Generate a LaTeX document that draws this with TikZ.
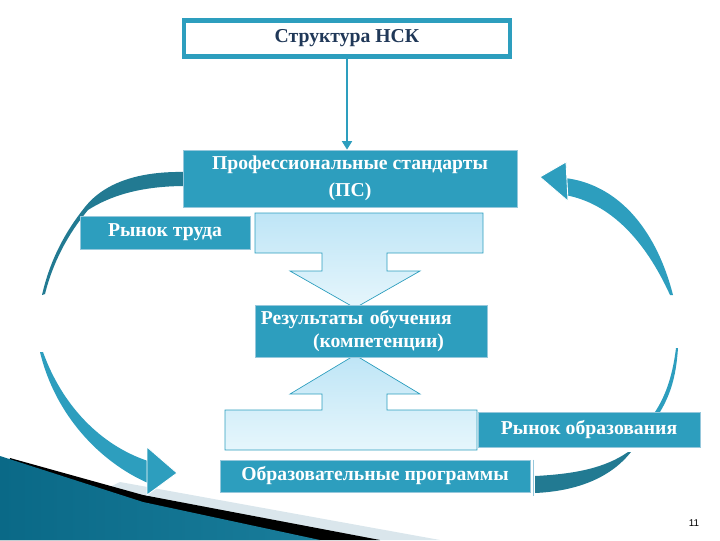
\documentclass[tikz,border=0pt]{standalone}
\usepackage{fontspec}
\setmainfont{Liberation Serif}
\newfontfamily\numfont{Liberation Sans}
\usetikzlibrary{arrows.meta,positioning,calc}

\definecolor{boxteal}{RGB}{45,158,190}
\definecolor{darkband}{RGB}{34,122,146}
\definecolor{edgeblue}{RGB}{150,200,220}
\definecolor{titlenavy}{RGB}{32,56,88}
\definecolor{arrowtop}{RGB}{190,229,246}
\definecolor{arrowbot}{RGB}{230,246,252}
\definecolor{wedgedark}{RGB}{10,105,135}
\definecolor{wedgelight}{RGB}{85,185,218}
\definecolor{wedgemid}{RGB}{25,125,155}
\definecolor{greyband}{RGB}{218,230,236}

\begin{document}
\begin{tikzpicture}[x=0.025cm, y=-0.025cm,
			box/.style={fill=boxteal, draw=edgeblue, line width=0.5pt, text=white, inner sep=2pt, font=\bfseries\fontsize{14}{19}\selectfont},
			titlebox/.style={draw=boxteal, line width=2.6pt, fill=white, text=titlenavy, font=\bfseries\fontsize{14}{17}\selectfont},
			conn/.style={draw=boxteal, line width=1.4pt, -{Triangle[length=6pt,width=7pt]}},
			band/.style={fill=darkband},
			loop/.style={fill=boxteal},
			head/.style={fill=boxteal, draw=white, line width=0.6pt},
			blockarrow/.style={top color=arrowtop, bottom color=arrowbot, draw=boxteal, line width=0.5pt}
			]
			\useasboundingbox (0,0) rectangle (720,540);
			
			% --------------------------------------------------------------------
			% corner wedge (bottom left)
			% --------------------------------------------------------------------
			\fill[greyband] (120,482) -- (440,540) -- (0,540) -- cycle;
			\fill[black] (10,458) -- (143,495) -- (380,540) -- (0,540) -- cycle;
			\shade[left color=wedgedark, middle color=wedgelight, right color=wedgemid]
				(0,456) -- (143,502) -- (320,540) -- (0,540) -- cycle;
			
			% --------------------------------------------------------------------
			% loop arrows
			% --------------------------------------------------------------------
			% left: from PS down to the programmes
			\fill[band] (186,172) .. controls (140,171) and (105,182) .. (85,207)
				.. controls (65,232) and (50,260) .. (42,295)
				-- (45,294) .. controls (53,262) and (68,234) .. (88,210)
				.. controls (110,196) and (140,186) .. (186,186) -- cycle;
			\fill[loop] (40,352) .. controls (55,415) and (100,462) .. (148,483)
				-- (148,461) .. controls (100,445) and (62,405) .. (43,352) -- cycle;
			\filldraw[head] (147,447) -- (177,473) -- (147,495) -- cycle;
			
			% right: from the programmes up to PS
			\fill[band] (535,476) .. controls (575,474) and (605,468) .. (628,452)
				-- (631,452) .. controls (612,476) and (580,491) .. (535,493) -- cycle;
			\fill[loop] (676,348) .. controls (672,380) and (664,398) .. (655,412)
				-- (660,412) .. controls (670,395) and (676,378) .. (678,348) -- cycle;
			\fill[loop] (565,178) .. controls (615,184) and (655,225) .. (673,295)
				-- (670,295) .. controls (645,240) and (610,203) .. (565,195) -- cycle;
			\filldraw[head] (566,162) -- (540,177) -- (568,201) -- cycle;
			
			% --------------------------------------------------------------------
			% block arrows (middle)
			% --------------------------------------------------------------------
			\path[blockarrow] (255,213) -- (483,213) -- (483,253) -- (387,253) -- (387,271)
				-- (420,271) -- (355,308) -- (290,271) -- (322,271) -- (322,253)
				-- (255,253) -- cycle;
			\path[blockarrow] (355,355) -- (420,394) -- (387,394) -- (387,410) -- (477,410)
				-- (477,450) -- (225,450) -- (225,410) -- (322,410) -- (322,394)
				-- (290,394) -- cycle;
			
			% --------------------------------------------------------------------
			% boxes
			% --------------------------------------------------------------------
			\node[titlebox, minimum width=8.175cm, minimum height=0.925cm] (title) at (347,38.5) {Структура НСК};
			\draw[boxteal, line width=0.6pt] ($(title.south west)+(4,-4)$) rectangle ($(title.north east)+(-4,4)$);
			
			\node[box, minimum width=8.35cm, minimum height=1.425cm, align=center] (ps) at (350,178.5)
				{Профессиональные стандарты\\(ПС)};
			\node[box, minimum width=4.25cm, minimum height=0.825cm] (labour) at (165,232.5) {Рынок труда};
			\node[box, minimum width=5.8cm, minimum height=1.3cm, text width=5.5cm, align=left,
				font=\bfseries\fontsize{14}{16.5}\selectfont] (res) at (371,331)
				{Результаты обучения\\\hspace*{37pt}(компетенции)};
			\node[box, minimum width=5.55cm, minimum height=0.875cm] (edmarket) at (589,429.5) {Рынок образования};
			\node[box, minimum width=7.75cm, minimum height=0.8cm] (prog) at (375,476) {Образовательные программы};
			\draw[edgeblue, line width=0.6pt] ($(prog.north east)+(3,0)$) -- ($(prog.south east)+(3,4)$);
			
			\draw[conn] (title.south) -- (title.south |- ps.north);
			
			\node[font=\numfont\fontsize{7}{8}\selectfont] (pagenum) at (694,523) {11};
			
		\end{tikzpicture}
\end{document}
